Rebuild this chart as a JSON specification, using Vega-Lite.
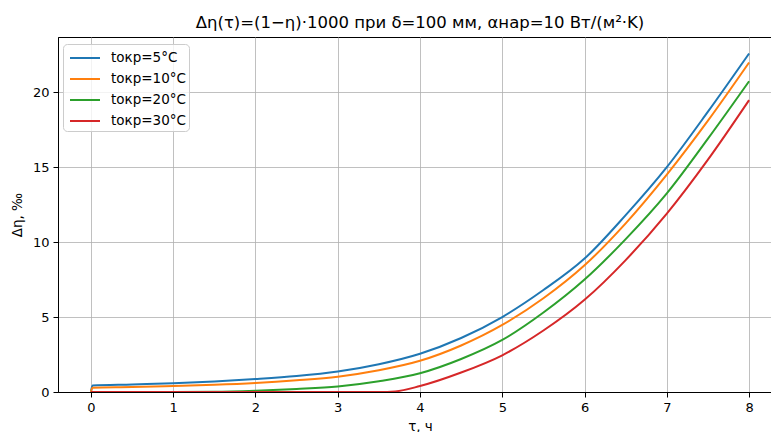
{
  "$schema": "https://vega.github.io/schema/vega-lite/v6.json",
  "autosize": {"type": "none"},
  "padding": {"left": 58, "top": 37, "right": 0, "bottom": 40},
  "width": 724,
  "height": 355,
  "background": "white",
  "title": {"text": "Δη(τ)=(1−η)·1000 при δ=100 мм, αнар=10 Вт/(м²·K)", "font": "DejaVu Sans", "fontSize": 16.5, "fontWeight": "normal", "color": "black", "offset": 6, "anchor": "middle"},
  "config": {
    "font": "DejaVu Sans",
    "view": {"stroke": "black", "strokeWidth": 1},
    "axis": {"labelFont": "DejaVu Sans", "titleFont": "DejaVu Sans", "labelFontSize": 13, "titleFontSize": 13.5, "titleFontWeight": "normal", "labelColor": "black", "titleColor": "black", "gridColor": "#b0b0b0", "gridWidth": 0.8, "tickColor": "black", "tickSize": 5, "domainColor": "black", "labelPadding": 4}
  },
  "data": {"values": [
    {"t": 0, "v": 0, "s": "tокр=5°C"},
    {"t": 0.02, "v": 0.43, "s": "tокр=5°C"},
    {"t": 0.5, "v": 0.5, "s": "tокр=5°C"},
    {"t": 1, "v": 0.58, "s": "tокр=5°C"},
    {"t": 1.5, "v": 0.7, "s": "tокр=5°C"},
    {"t": 2, "v": 0.86, "s": "tокр=5°C"},
    {"t": 2.5, "v": 1.06, "s": "tокр=5°C"},
    {"t": 3, "v": 1.36, "s": "tокр=5°C"},
    {"t": 3.5, "v": 1.85, "s": "tокр=5°C"},
    {"t": 4, "v": 2.55, "s": "tокр=5°C"},
    {"t": 4.5, "v": 3.6, "s": "tокр=5°C"},
    {"t": 5, "v": 5.0, "s": "tокр=5°C"},
    {"t": 5.5, "v": 6.8, "s": "tокр=5°C"},
    {"t": 6, "v": 8.9, "s": "tокр=5°C"},
    {"t": 6.5, "v": 11.8, "s": "tокр=5°C"},
    {"t": 7, "v": 15.0, "s": "tокр=5°C"},
    {"t": 7.5, "v": 18.7, "s": "tокр=5°C"},
    {"t": 8, "v": 22.58, "s": "tокр=5°C"},
    {"t": 0, "v": 0, "s": "tокр=10°C"},
    {"t": 0.02, "v": 0.29, "s": "tокр=10°C"},
    {"t": 0.5, "v": 0.33, "s": "tокр=10°C"},
    {"t": 1, "v": 0.4, "s": "tокр=10°C"},
    {"t": 1.5, "v": 0.48, "s": "tокр=10°C"},
    {"t": 2, "v": 0.6, "s": "tокр=10°C"},
    {"t": 2.5, "v": 0.78, "s": "tокр=10°C"},
    {"t": 3, "v": 1.02, "s": "tокр=10°C"},
    {"t": 3.5, "v": 1.45, "s": "tокр=10°C"},
    {"t": 4, "v": 2.08, "s": "tокр=10°C"},
    {"t": 4.5, "v": 3.1, "s": "tокр=10°C"},
    {"t": 5, "v": 4.47, "s": "tокр=10°C"},
    {"t": 5.5, "v": 6.25, "s": "tокр=10°C"},
    {"t": 6, "v": 8.45, "s": "tокр=10°C"},
    {"t": 6.5, "v": 11.25, "s": "tокр=10°C"},
    {"t": 7, "v": 14.5, "s": "tокр=10°C"},
    {"t": 7.5, "v": 18.1, "s": "tокр=10°C"},
    {"t": 8, "v": 21.98, "s": "tокр=10°C"},
    {"t": 0, "v": 0, "s": "tокр=20°C"},
    {"t": 1, "v": 0, "s": "tокр=20°C"},
    {"t": 1.5, "v": 0.01, "s": "tокр=20°C"},
    {"t": 2, "v": 0.08, "s": "tокр=20°C"},
    {"t": 2.5, "v": 0.2, "s": "tокр=20°C"},
    {"t": 3, "v": 0.37, "s": "tокр=20°C"},
    {"t": 3.5, "v": 0.72, "s": "tокр=20°C"},
    {"t": 4, "v": 1.25, "s": "tокр=20°C"},
    {"t": 4.5, "v": 2.2, "s": "tокр=20°C"},
    {"t": 5, "v": 3.47, "s": "tокр=20°C"},
    {"t": 5.5, "v": 5.3, "s": "tокр=20°C"},
    {"t": 6, "v": 7.5, "s": "tокр=20°C"},
    {"t": 6.5, "v": 10.2, "s": "tокр=20°C"},
    {"t": 7, "v": 13.25, "s": "tокр=20°C"},
    {"t": 7.5, "v": 16.9, "s": "tокр=20°C"},
    {"t": 8, "v": 20.73, "s": "tокр=20°C"},
    {"t": 0, "v": 0, "s": "tокр=30°C"},
    {"t": 3.5, "v": 0, "s": "tокр=30°C"},
    {"t": 3.7, "v": 0.04, "s": "tокр=30°C"},
    {"t": 4, "v": 0.4, "s": "tокр=30°C"},
    {"t": 4.5, "v": 1.3, "s": "tокр=30°C"},
    {"t": 5, "v": 2.45, "s": "tокр=30°C"},
    {"t": 5.5, "v": 4.1, "s": "tокр=30°C"},
    {"t": 6, "v": 6.15, "s": "tокр=30°C"},
    {"t": 6.5, "v": 8.8, "s": "tокр=30°C"},
    {"t": 7, "v": 11.9, "s": "tокр=30°C"},
    {"t": 7.5, "v": 15.5, "s": "tокр=30°C"},
    {"t": 8, "v": 19.47, "s": "tокр=30°C"}
  ]},
  "mark": {"type": "line", "strokeWidth": 2, "interpolate": "monotone", "clip": true},
  "encoding": {
    "x": {"field": "t", "type": "quantitative", "scale": {"domain": [-0.4, 8.4], "nice": false, "zero": false}, "axis": {"values": [0, 1, 2, 3, 4, 5, 6, 7, 8], "title": "τ, ч", "titlePadding": 5, "grid": true}},
    "y": {"field": "v", "type": "quantitative", "scale": {"domain": [0, 23.68], "nice": false}, "axis": {"values": [0, 5, 10, 15, 20], "title": "Δη, ‰", "titlePadding": 8, "grid": true}},
    "color": {"field": "s", "type": "nominal", "sort": ["tокр=5°C", "tокр=10°C", "tокр=20°C", "tокр=30°C"], "scale": {"domain": ["tокр=5°C", "tокр=10°C", "tокр=20°C", "tокр=30°C"], "range": ["#1f77b4", "#ff7f0e", "#2ca02c", "#d62728"]}, "legend": {"title": null, "orient": "none", "legendX": 5, "legendY": 7, "symbolType": "M-1.5,0H1.5", "symbolSize": 400, "symbolStrokeWidth": 2, "symbolOffset": 8, "labelFontSize": 13.5, "labelFont": "DejaVu Sans", "labelColor": "black", "padding": 3, "rowPadding": 3, "strokeColor": "#cccccc", "fillColor": "rgba(255,255,255,0.8)", "cornerRadius": 4, "labelOffset": 15}},
    "order": {"field": "t", "type": "quantitative"}
  }
}
